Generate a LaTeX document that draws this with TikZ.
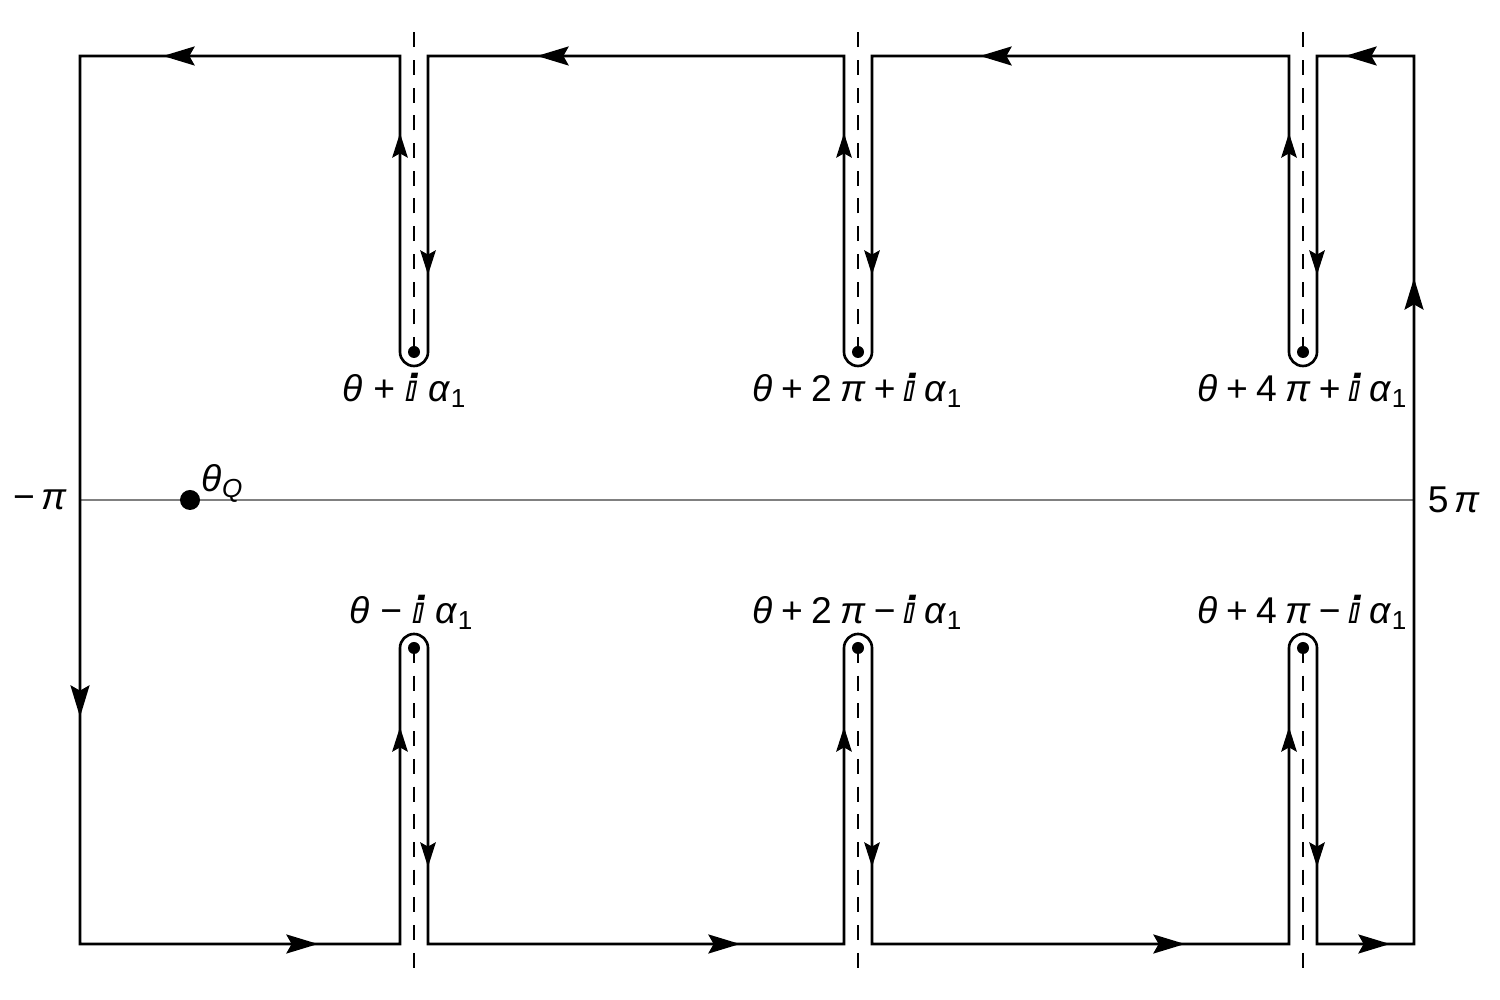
\documentclass[tikz,border=0pt]{standalone}
\usepackage{fontspec}
\setmainfont{Liberation Sans}
\newfontfamily\dsfont{DejaVu Sans}
\usetikzlibrary{arrows.meta}

\newcommand{\thx}{\textit{θ}}
\newcommand{\alx}{\textit{α}\textsubscript{1}}
\newcommand{\dsi}{{\dsfont\bfseries ⅈ}}
\newcommand{\gap}{\hspace{0.22em}}

\begin{document}
\begin{tikzpicture}[x=0.01cm,y=0.01cm,
    contour/.style={line width=0.75pt},
    cut/.style={line width=0.7pt,dash pattern=on 0.15cm off 0.127cm},
    bigtip/.style={line width=0.75pt,-{Stealth[length=9pt,width=5.4pt,inset=1.5pt]}},
    smalltip/.style={line width=0.75pt,-{Stealth[length=7pt,width=4.4pt,inset=1.2pt]}},
    bp/.style={circle,fill,inner sep=0pt,minimum size=0.12cm},
    lab/.style={font=\fontsize{10.6}{12}\selectfont,inner sep=0pt}]
  \useasboundingbox (0,0) rectangle (1500,1000);
  % real axis
  \draw[gray,line width=0.45pt] (80,500) -- (1414,500);
  \node[lab] (mpi) at (40,500) {−\,\textit{π}};
  \node[lab] (fpi) at (1454,500) {5\,\textit{π}};
  \node[circle,fill,inner sep=0pt,minimum size=0.2cm] (thQ) at (190,500) {};
  \node[lab,anchor=south west] (thQl) at ([xshift=1pt,yshift=-3pt]thQ.north east) {\thx\textsubscript{\textit{Q}}};
  % branch points and cuts
  \foreach \c/\n in {414/1,858/2,1303/3} {
    \node[bp] (up\n) at (\c,648) {};
    \node[bp] (dn\n) at (\c,352) {};
    \coordinate (upend\n) at (\c,968);
    \coordinate (dnend\n) at (\c,32);
    \draw[cut] (up\n.center) -- (upend\n);
    \draw[cut] (dn\n.center) -- (dnend\n);
  }
  \node[lab] (l1) at (405,610) {\thx\ + \dsi\ \alx};
  \node[lab] (l2) at (858,610) {\thx\gap+\gap2\gap\textit{π}\gap+\gap\dsi\gap\alx};
  \node[lab] (l3) at (1303,610) {\thx\gap+\gap4\gap\textit{π}\gap+\gap\dsi\gap\alx};
  \node[lab] (l4) at (412,388) {\thx\ − \dsi\ \alx};
  \node[lab] (l5) at (858,388) {\thx\gap+\gap2\gap\textit{π}\gap−\gap\dsi\gap\alx};
  \node[lab] (l6) at (1303,388) {\thx\gap+\gap4\gap\textit{π}\gap−\gap\dsi\gap\alx};
  % contour
  \draw[contour] (80,944) -- (80,56) -- (400,56) -- (400,352)
    arc[start angle=180,end angle=0,radius=14] -- (428,56) -- (844,56) -- (844,352)
    arc[start angle=180,end angle=0,radius=14] -- (872,56) -- (1289,56) -- (1289,352)
    arc[start angle=180,end angle=0,radius=14] -- (1317,56) -- (1414,56) -- (1414,944)
    -- (1317,944) -- (1317,648) arc[start angle=0,end angle=-180,radius=14]
    -- (1289,944) -- (872,944) -- (872,648) arc[start angle=0,end angle=-180,radius=14]
    -- (844,944) -- (428,944) -- (428,648) arc[start angle=0,end angle=-180,radius=14]
    -- (400,944) -- cycle;
  % arrows
  \foreach \x in {163,537,980,1345} \draw[bigtip] (\x+40,944) -- (\x,944);
  \foreach \x in {318,740,1185,1390} \draw[bigtip] (\x-40,56) -- (\x,56);
  \draw[bigtip] (80,323) -- (80,283);
  \draw[bigtip] (1414,682) -- (1414,722);
  \foreach \c in {414,858,1303} {
    \draw[smalltip] (\c-14,827) -- (\c-14,867);
    \draw[smalltip] (\c+14,765) -- (\c+14,725);
    \draw[smalltip] (\c-14,233) -- (\c-14,273);
    \draw[smalltip] (\c+14,173) -- (\c+14,133);
  }
\end{tikzpicture}
\end{document}
